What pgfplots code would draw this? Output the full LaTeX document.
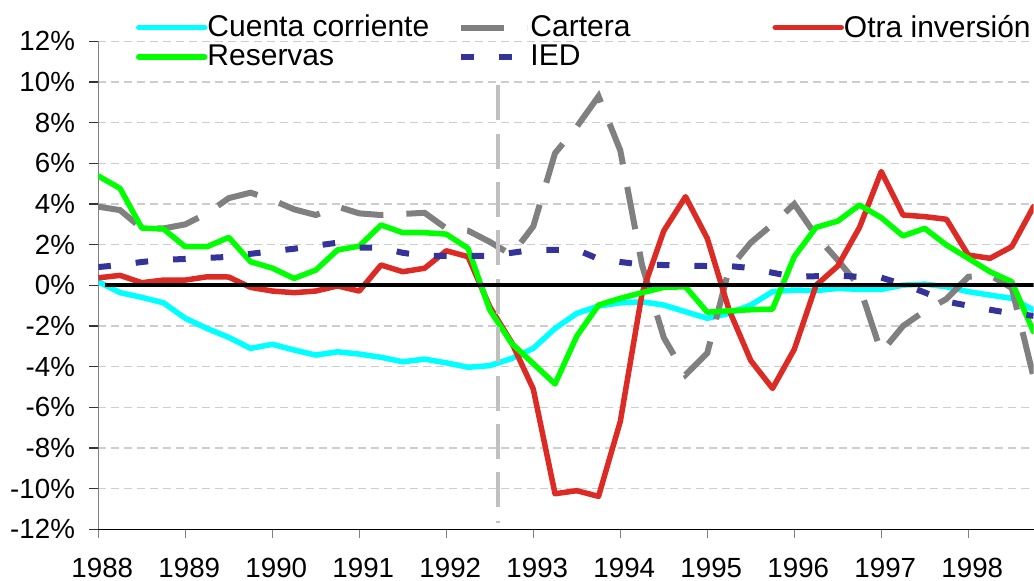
\documentclass[border=0pt]{standalone}
\usepackage{pgfplots}
\usepackage{pgfplotstable}
\pgfplotsset{compat=1.18}
\usepackage{fontspec}
\setmainfont{Liberation Sans}
\definecolor{ccyan}{RGB}{0,255,255}
\definecolor{cgreen}{RGB}{0,255,0}
\definecolor{cred}{RGB}{220,42,37}
\definecolor{cgray}{RGB}{128,128,128}
\definecolor{cblue}{RGB}{51,51,153}
\definecolor{cvline}{RGB}{192,192,192}
\definecolor{cgrid}{RGB}{205,205,205}

\pgfplotstableread{
x cc cart otra res ied
1988.00 0.18 3.87 0.37 5.38 0.90
1988.25 -0.36 3.70 0.49 4.77 1.00
1988.50 -0.59 2.80 0.13 2.82 1.15
1988.75 -0.86 2.80 0.26 2.77 1.25
1989.00 -1.62 3.00 0.26 1.90 1.30
1989.25 -2.12 3.54 0.42 1.90 1.35
1989.50 -2.56 4.29 0.41 2.36 1.40
1989.75 -3.10 4.56 -0.10 1.16 1.55
1990.00 -2.90 4.20 -0.28 0.85 1.68
1990.25 -3.18 3.74 -0.36 0.34 1.80
1990.50 -3.43 3.46 -0.28 0.75 1.95
1990.75 -3.27 3.87 -0.03 1.74 2.10
1991.00 -3.38 3.54 -0.28 1.93 1.85
1991.25 -3.54 3.46 1.00 2.97 1.85
1991.50 -3.76 3.51 0.67 2.59 1.60
1991.75 -3.63 3.57 0.84 2.59 1.45
1992.00 -3.81 2.80 1.70 2.52 1.45
1992.25 -4.03 2.69 1.41 1.82 1.45
1992.50 -3.95 2.14 -1.05 -1.21 1.45
1992.75 -3.60 1.50 -2.80 -2.85 1.60
1993.00 -3.10 2.90 -5.10 -3.85 1.75
1993.25 -2.12 6.50 -10.25 -4.85 1.75
1993.50 -1.38 7.80 -10.10 -2.50 1.75
1993.75 -1.02 9.30 -10.38 -0.97 1.30
1994.00 -0.86 6.64 -6.70 -0.64 1.15
1994.25 -0.81 1.00 -0.40 -0.36 1.02
1994.50 -0.97 -2.57 2.68 -0.10 1.00
1994.75 -1.30 -4.40 4.36 -0.07 0.97
1995.00 -1.62 -3.33 2.31 -1.32 0.95
1995.25 -1.38 0.80 -1.20 -1.25 0.95
1995.50 -0.97 2.10 -3.70 -1.20 0.85
1995.75 -0.31 3.00 -5.07 -1.17 0.62
1996.00 -0.23 4.00 -3.15 1.41 0.42
1996.25 -0.26 2.45 0.00 2.85 0.45
1996.50 -0.15 1.24 0.95 3.16 0.48
1996.75 -0.20 -0.06 2.85 3.95 0.42
1997.00 -0.20 -3.30 5.60 3.33 0.38
1997.25 0.01 -2.00 3.46 2.43 0.05
1997.50 0.06 -1.26 3.38 2.80 -0.35
1997.75 -0.07 -0.67 3.25 1.98 -0.80
1998.00 -0.31 0.42 1.49 1.33 -1.00
1998.25 -0.48 0.50 1.33 0.67 -1.20
1998.50 -0.64 -0.13 1.90 0.18 -1.38
1998.75 -1.21 -4.50 3.87 -2.28 -1.50
}\datatable

\begin{document}
\begin{tikzpicture}
\begin{axis}[
  at={(49.15bp,25.85bp)}, anchor=south west,
  scale only axis, width=467.6bp, height=243.95bp,
  xmin=1988, xmax=1998.75, ymin=-12, ymax=12,
  axis lines*=left,
  x axis line style={black, line width=0.75bp},
  y axis line style={cgray, line width=0.6bp},
  tick align=outside,
  major tick length=4.5bp,
  xtick={1988,1989,1990,1991,1992,1993,1994,1995,1996,1997,1998},
  xticklabels={1988,1989,1990,1991,1992,1993,1994,1995,1996,1997,1998},
  ytick={-12,-10,-8,-6,-4,-2,0,2,4,6,8,10,12},
  yticklabels={-12\%,-10\%,-8\%,-6\%,-4\%,-2\%,0\%,2\%,4\%,6\%,8\%,10\%,12\%},
  x tick style={cgray, line width=0.6bp},
  y tick style={black!80, line width=0.6bp},
  tick label style={font=\fontsize{13.85bp}{16bp}\selectfont, inner sep=0pt},
  yticklabel style={anchor=east, xshift=-7bp},
  xticklabel style={anchor=north, yshift=-9.8bp, xshift=2bp},
  ymajorgrids,
  grid style={cgrid, line width=0.75bp, dash pattern=on 4bp off 2.5bp},
  legend columns=3,
  legend cell align=left,
  legend style={at={(0.0403,1.0541)}, anchor=north west, draw=none, fill=none,
    inner sep=0pt, outer sep=0pt, row sep=2.5bp,
    font=\fontsize{15bp}{18bp}\selectfont,
    nodes={inner sep=0pt},
    /tikz/every even column/.append style={column sep=0pt}},
  legend image code/.code={\draw[#1] (0bp,0bp) -- (33bp,0bp);},
]
\addplot[ccyan, line width=2.75bp, line cap=round, line join=round] table[x=x,y=cc] {\datatable};
\addlegendentry{\makebox[125.5bp][l]{Cuenta corriente}}
\addplot[cgray, line width=3bp, dash pattern=on 21.5bp off 11.5bp] table[x=x,y=cart] {\datatable};
\addlegendentry{\makebox[121bp][l]{Cartera}}
\addplot[cred, line width=2.75bp, line cap=round, line join=round] table[x=x,y=otra] {\datatable};
\addlegendentry{Otra inversión}
\addplot[cgreen, line width=2.75bp, line cap=round, line join=round] table[x=x,y=res] {\datatable};
\addlegendentry{\makebox[125.5bp][l]{Reservas}}
\addplot[cblue, line width=3bp, dash pattern=on 6.3bp off 12.5bp] table[x=x,y=ied] {\datatable};
\addlegendentry{\makebox[121bp][l]{IED}}
\addplot[cvline, line width=2bp, dash pattern=on 17.5bp off 6.7bp, forget plot] coordinates {(1992.59,9.85) (1992.59,-11.68)};
\addplot[black, line width=2bp, forget plot] coordinates {(1988.08,0) (1998.75,0)};
\end{axis}
\pgfresetboundingbox
\path[use as bounding box] (0bp,0bp) rectangle (517bp,290.5bp);
\end{tikzpicture}
\end{document}
